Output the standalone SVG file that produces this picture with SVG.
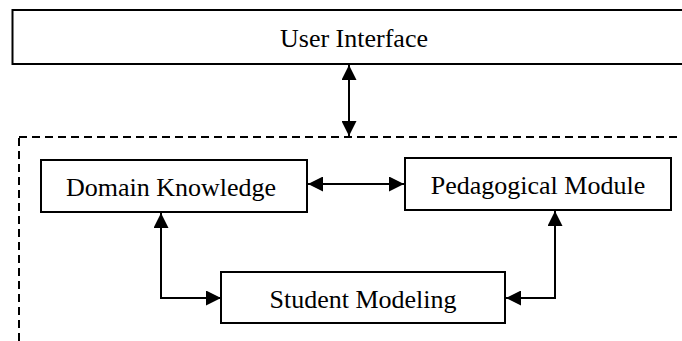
<svg xmlns="http://www.w3.org/2000/svg" width="682" height="341" viewBox="0 0 682 341">
  <style>
    .box { fill: #fff; stroke: #000; stroke-width: 2; }
    .frame { fill: none; stroke: #000; stroke-width: 2; stroke-dasharray: 8 5; }
    .link { fill: none; stroke: #000; stroke-width: 2; }
    .label { font-family: "Liberation Serif", "Times New Roman", serif; font-size: 26px; fill: #000; text-anchor: middle; }
  </style>
  <defs>
    <marker id="arrow" viewBox="0 0 15 15" refX="15" refY="7.5" markerWidth="15" markerHeight="15" markerUnits="userSpaceOnUse" orient="auto-start-reverse">
      <path d="M0,0 L15,7.5 L0,15 z" fill="#000"/>
    </marker>
  </defs>
  <rect width="682" height="341" fill="#fff"/>

  <!-- dashed boundary of the tutoring core -->
  <rect id="core-frame" class="frame" x="19" y="137" width="700" height="260"/>

  <g id="user-interface">
    <rect class="box" x="12.5" y="10" width="700" height="54"/>
    <text class="label" x="354" y="47">User Interface</text>
  </g>

  <g id="domain-knowledge">
    <rect class="box" x="41" y="160" width="266" height="52"/>
    <text class="label" x="171" y="196">Domain Knowledge</text>
  </g>

  <g id="pedagogical-module">
    <rect class="box" x="405" y="158" width="266" height="52"/>
    <text class="label" x="538" y="194">Pedagogical Module</text>
  </g>

  <g id="student-modeling">
    <rect class="box" x="221" y="272" width="284" height="51"/>
    <text class="label" x="363" y="308">Student Modeling</text>
  </g>

  <g id="connectors">
    <line class="link" x1="349" y1="65" x2="349" y2="136" marker-start="url(#arrow)" marker-end="url(#arrow)"/>
    <line class="link" x1="308" y1="184" x2="404" y2="184" marker-start="url(#arrow)" marker-end="url(#arrow)"/>
    <polyline class="link" points="161,213 161,298 221,298" marker-start="url(#arrow)" marker-end="url(#arrow)"/>
    <polyline class="link" points="555,211 555,298 506,298" marker-start="url(#arrow)" marker-end="url(#arrow)"/>
  </g>
</svg>
